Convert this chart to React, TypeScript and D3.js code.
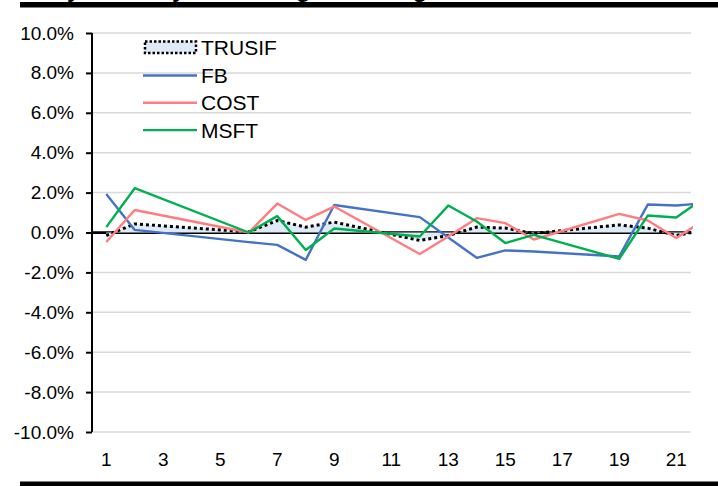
import React, { useEffect, useRef } from "react";
import * as d3 from "d3";

// day of month (September) - gaps are weekends / holiday
const days: number[] = d3.range(1, 23);
const xTickLabels: number[] = [1, 3, 5, 7, 9, 11, 13, 15, 17, 19, 21];
const yTicks: number[] = [-10, -8, -6, -4, -2, 0, 2, 4, 6, 8, 10];

// daily return, in percent
const trusif: (number | null)[] = [-0.15, 0.43, null, null, null, 0.03, 0.6, 0.27, 0.52, null, null, -0.4, -0.15, 0.27, 0.22, -0.05, null, null, 0.38, 0.22, -0.15, 0.13];
const fb: (number | null)[] = [1.93, 0.13, null, null, null, -0.48, -0.62, -1.37, 1.38, null, null, 0.77, -0.25, -1.27, -0.9, -0.95, null, null, -1.2, 1.4, 1.35, 1.47];
const cost: (number | null)[] = [-0.48, 1.13, null, null, null, 0.0, 1.45, 0.63, 1.3, null, null, -1.08, -0.2, 0.72, 0.47, -0.35, null, null, 0.93, 0.6, -0.28, 0.64];
const msft: (number | null)[] = [0.27, 2.22, null, null, null, 0.0, 0.82, -0.88, 0.2, null, null, -0.2, 1.35, 0.55, -0.53, -0.12, null, null, -1.32, 0.85, 0.75, 1.75];

const lineSeries = [
  { name: "FB", values: fb, color: "#4472C4" },
  { name: "COST", values: cost, color: "#FF7C80" },
  { name: "MSFT", values: msft, color: "#00B050" },
];

const FONT = "'Liberation Sans', Arial, sans-serif";

const App: React.FC = () => {
  const svgRef = useRef<SVGSVGElement | null>(null);

  useEffect(() => {
    document.body.style.margin = "0";
    const svg = d3.select(svgRef.current);
    svg.selectAll("*").remove();

    const left = 92;
    const plotRight = 691;
    const x = d3
      .scaleBand<number>()
      .domain(days)
      .range([left, left + 22 * 28.5]);
    const cx = (d: number) => (x(d) || 0) + x.bandwidth() / 2;
    const y = d3.scaleLinear().domain([-10, 10]).range([432, 33]);

    // title (sits above the page, only descenders peek out) and rules
    svg
      .append("text")
      .attr("x", 23)
      .attr("y", -3.5)
      .attr("font-family", FONT)
      .attr("font-weight", "bold")
      .attr("font-size", 24)
      .text("Daily Volatility of Holdings vs. Weighted Total");
    svg.append("rect").attr("x", 20).attr("y", 2).attr("width", 698).attr("height", 5.5).attr("fill", "#000");
    svg.append("rect").attr("x", 20).attr("y", 481.5).attr("width", 698).attr("height", 5).attr("fill", "#000");

    // gridlines
    svg
      .append("g")
      .selectAll("line")
      .data(yTicks.filter((t) => t !== 0))
      .enter()
      .append("line")
      .attr("x1", left)
      .attr("x2", plotRight)
      .attr("y1", (d) => y(d))
      .attr("y2", (d) => y(d))
      .attr("stroke", "#D9D9D9")
      .attr("stroke-width", 1.5);

    // y axis
    const yAxis = svg
      .append("g")
      .attr("transform", `translate(${left}, 0)`)
      .call(
        d3
          .axisLeft(y)
          .tickValues(yTicks)
          .tickSize(6)
          .tickPadding(12)
          .tickFormat((d) => `${(+d).toFixed(1)}%`)
      );
    yAxis.select(".domain").attr("stroke", "#000").attr("stroke-width", 2).attr("d", `M0,${y(10)}V${y(-10)}`);
    yAxis.selectAll(".tick line").attr("stroke", "#000").attr("stroke-width", 2);
    yAxis
      .selectAll(".tick text")
      .attr("font-family", FONT)
      .attr("font-size", 19)
      .attr("fill", "#000");

    // x labels (low position)
    svg
      .append("g")
      .selectAll("text")
      .data(xTickLabels)
      .enter()
      .append("text")
      .attr("x", (d) => cx(d))
      .attr("y", 466)
      .attr("text-anchor", "middle")
      .attr("font-family", FONT)
      .attr("font-size", 19)
      .text((d) => d);

    // zero axis line
    svg
      .append("line")
      .attr("x1", left)
      .attr("x2", plotRight)
      .attr("y1", y(0))
      .attr("y2", y(0))
      .attr("stroke", "#000")
      .attr("stroke-width", 2.75);

    svg
      .append("clipPath")
      .attr("id", "plotclip")
      .append("rect")
      .attr("x", left)
      .attr("y", 0)
      .attr("width", 693 - left)
      .attr("height", 486);

    const plot = svg.append("g").attr("clip-path", "url(#plotclip)");

    const trusifPts = days
      .map((d, i) => ({ d, v: trusif[i] }))
      .filter((p) => p.v !== null) as { d: number; v: number }[];

    const area = d3
      .area<{ d: number; v: number }>()
      .x((p) => cx(p.d))
      .y0(y(0))
      .y1((p) => y(p.v));
    plot.append("path").datum(trusifPts).attr("d", area).attr("fill", "#DEEBF7");

    const line = d3
      .line<{ d: number; v: number }>()
      .x((p) => cx(p.d))
      .y((p) => y(p.v));

    plot
      .append("path")
      .datum(trusifPts)
      .attr("d", line)
      .attr("fill", "none")
      .attr("stroke", "#000")
      .attr("stroke-width", 3)
      .attr("stroke-dasharray", "3 3");

    lineSeries.forEach((s) => {
      const pts = days
        .map((d, i) => ({ d, v: s.values[i] }))
        .filter((p) => p.v !== null) as { d: number; v: number }[];
      plot
        .append("path")
        .datum(pts)
        .attr("d", line)
        .attr("fill", "none")
        .attr("stroke", s.color)
        .attr("stroke-width", 2.4)
        .attr("stroke-linejoin", "round");
    });

    // legend
    const legend = svg.append("g").attr("font-family", FONT).attr("font-size", 21);
    legend
      .append("rect")
      .attr("x", 145)
      .attr("y", 41.5)
      .attr("width", 51)
      .attr("height", 11.5)
      .attr("fill", "#DEEBF7")
      .attr("stroke", "#000")
      .attr("stroke-width", 2.5)
      .attr("stroke-dasharray", "2.5 2");
    legend.append("text").attr("x", 201).attr("y", 47.5).attr("dy", "0.36em").text("TRUSIF");
    lineSeries.forEach((s, i) => {
      const ly = 75.5 + i * 27.3;
      legend
        .append("line")
        .attr("x1", 143)
        .attr("x2", 197)
        .attr("y1", ly)
        .attr("y2", ly)
        .attr("stroke", s.color)
        .attr("stroke-width", 2.4);
      legend.append("text").attr("x", 201).attr("y", ly).attr("dy", "0.36em").text(s.name);
    });
  }, []);

  return (
    <div>
      <svg ref={svgRef} width={718} height={486} style={{ display: "block", background: "#fff" }}></svg>
    </div>
  );
};

export default App;
